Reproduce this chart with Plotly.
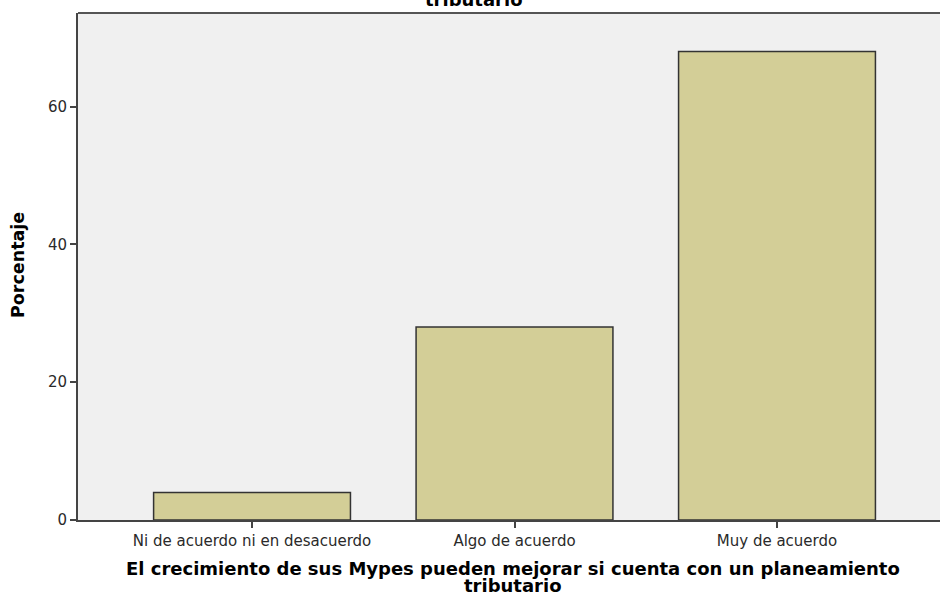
import plotly.graph_objects as go

categorias = ["Ni de acuerdo ni en desacuerdo", "Algo de acuerdo", "Muy de acuerdo"]
porcentajes = [4, 28, 68]
y_ticks = [0, 20, 40, 60]

titulo_x_1 = "El crecimiento de sus Mypes pueden mejorar si cuenta con un planeamiento"
titulo_x_2 = "tributario"
titulo_y = "Porcentaje"

FUENTE_TITULO = dict(family="DejaVu Sans, sans-serif", size=18, color="black", weight="bold")

fig = go.Figure(
    go.Bar(
        x=list(range(len(categorias))),
        y=porcentajes,
        width=0.75,
        marker=dict(color="#d3ce97", line=dict(color="#333333", width=1.5)),
    )
)

fig.update_layout(
    width=940,
    height=597,
    margin=dict(l=78, r=0, t=13, b=77, autoexpand=False),
    paper_bgcolor="white",
    plot_bgcolor="#f0f0f0",
    showlegend=False,
    font=dict(family="DejaVu Sans, sans-serif", color="#2a2a2a"),
)

fig.update_xaxes(
    range=[-0.663, 2.621],
    tickvals=list(range(len(categorias))),
    ticktext=categorias,
    ticks="outside",
    ticklen=6,
    tickwidth=2,
    tickcolor="#444",
    tickfont=dict(size=15),
    showline=True,
    linecolor="#444",
    linewidth=2,
    showgrid=False,
    zeroline=False,
    automargin=False,
)

fig.update_yaxes(
    range=[0, 73.6],
    tickvals=y_ticks,
    ticks="outside",
    ticklen=6,
    tickwidth=2,
    tickcolor="#444",
    tickfont=dict(size=15),
    showline=True,
    linecolor="#444",
    linewidth=2,
    showgrid=False,
    zeroline=False,
    automargin=False,
)

# borde superior del área de gráfico
fig.add_shape(type="line", xref="paper", yref="paper", x0=0, x1=1, y0=1, y1=1,
              line=dict(color="#555", width=2))

# títulos de ejes como anotaciones (interlineado apretado como en el original)
fig.add_annotation(text=titulo_x_1, xref="paper", yref="paper", x=(513 - 78) / 862, y=0,
                   yanchor="middle", yshift=-48, showarrow=False, font=FUENTE_TITULO)
fig.add_annotation(text=titulo_x_2, xref="paper", yref="paper", x=(513 - 78) / 862, y=0,
                   yanchor="middle", yshift=-65, showarrow=False, font=FUENTE_TITULO)
fig.add_annotation(text=titulo_y, xref="paper", yref="paper", x=0, xshift=-60,
                   xanchor="center", y=(520 - 265) / 507, yanchor="middle",
                   textangle=-90, showarrow=False,
                   font=dict(family="DejaVu Sans, sans-serif", size=17.5, color="black", weight="bold"))

# título cortado arriba (en el original sólo se ve la parte inferior)
fig.add_annotation(
    text="tributario", xref="paper", yref="paper", x=(474 - 78) / 862, y=1,
    yanchor="bottom", yshift=1, showarrow=False, font=FUENTE_TITULO,
)

# sin margen del body para que la figura ocupe la ventana exacta
fig.write_html(
    "out.html",
    config={"displayModeBar": False},
    post_script="document.body.style.margin = '0';",
)
